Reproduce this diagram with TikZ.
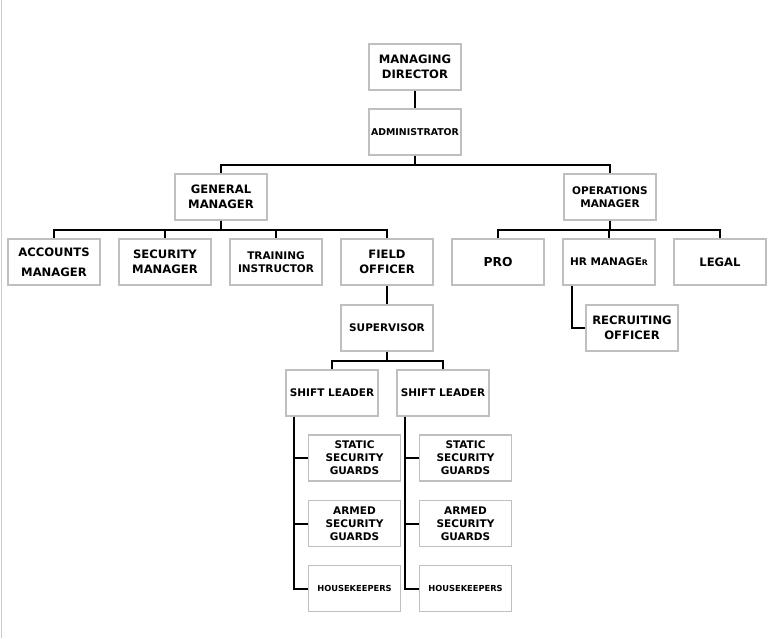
\documentclass[tikz,border=0pt]{standalone}
\usepackage{fontspec}
\setmainfont{DejaVu Sans}
\tikzset{
  box/.style={draw=gray!50, line width=1.2pt, fill=white, minimum width=92pt,
    minimum height=46pt, inner sep=1pt, align=center},
  fbig/.style={font=\fontsize{11.6}{14.5}\selectfont\bfseries},
  fmid/.style={font=\fontsize{10.5}{13}\selectfont\bfseries},
  fsml/.style={font=\fontsize{9.4}{11}\selectfont\bfseries},
  ftiny/.style={font=\fontsize{8.3}{10}\selectfont\bfseries},
  conn/.style={line width=2pt, black},
}
\begin{document}
\begin{tikzpicture}[x=1pt, y=-1pt]
\useasboundingbox (0,0) rectangle (768,638);
\draw[gray!40, line width=1pt] (1,0) -- (1,638);

\node[box, fbig] (md) at (415,67) {MANAGING\\DIRECTOR};
\node[box, fsml] (adm) at (415,132) {ADMINISTRATOR};
\node[box, fbig] (gm) at (221,197) {GENERAL\\MANAGER};
\node[box, fmid] (ops) at (610,197) {OPERATIONS\\MANAGER};

\node[box, fbig, font=\fontsize{11.6}{20}\selectfont\bfseries] (acc) at (54,262) {ACCOUNTS\\MANAGER};
\node[box, fbig] (sec) at (165,262) {SECURITY\\MANAGER};
\node[box, fmid] (trn) at (276,262) {TRAINING\\INSTRUCTOR};
\node[box, fbig] (fo) at (387,262) {FIELD\\OFFICER};
\node[box, fbig, font=\fontsize{12.3}{14}\selectfont\bfseries] (pro) at (498,262) {PRO};
\node[box, fmid] (hr) at (609,262) {HR MANAGE{\fontsize{7.7}{9}\selectfont R}};
\node[box, fbig] (leg) at (720,262) {LEGAL};

\node[box, fbig] (rec) at (632,328) {RECRUITING\\OFFICER};
\node[box, fmid] (sup) at (387,328) {SUPERVISOR};

\node[box, fmid] (sl1) at (332,393) {SHIFT LEADER};
\node[box, fmid] (sl2) at (443,393) {SHIFT LEADER};

\node[box, fmid] (st1) at (354.5,458) {STATIC\\SECURITY\\GUARDS};
\node[box, fmid] (ar1) at (354.5,523.5) {ARMED\\SECURITY\\GUARDS};
\node[box, ftiny] (hk1) at (354.5,588.5) {HOUSEKEEPERS};
\node[box, fmid] (st2) at (465.5,458) {STATIC\\SECURITY\\GUARDS};
\node[box, fmid] (ar2) at (465.5,523.5) {ARMED\\SECURITY\\GUARDS};
\node[box, ftiny] (hk2) at (465.5,588.5) {HOUSEKEEPERS};

\draw[conn] (md.south) -- (adm.north);
\draw[conn] (adm.south) -- ++(0,9) -| (gm.north);
\draw[conn] (adm.south) -- ++(0,9) -| (ops.north);

\foreach \c in {acc,sec,trn,fo}
  \draw[conn] (gm.south) -- ++(0,9) -| (\c.north);
\foreach \c in {pro,hr,leg}
  \draw[conn] (ops.south) -- ++(0,9) -| (\c.north);

\draw[conn] ([xshift=10pt]hr.south west) |- (rec.west);
\draw[conn] (fo.south) -- (sup.north);
\draw[conn] (sup.south) -- ++(0,9) -| (sl1.north);
\draw[conn] (sup.south) -- ++(0,9) -| (sl2.north);

\foreach \c in {st1,ar1,hk1}
  \draw[conn] ([xshift=9pt]sl1.south west) |- (\c.west);
\foreach \c in {st2,ar2,hk2}
  \draw[conn] ([xshift=9pt]sl2.south west) |- (\c.west);
\end{tikzpicture}
\end{document}
